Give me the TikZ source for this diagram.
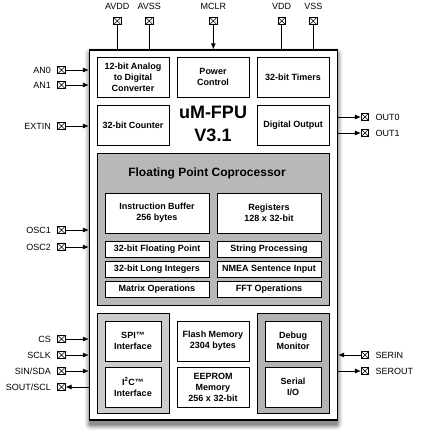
\documentclass[tikz,border=0pt]{standalone}
\usepackage{fontspec}
\setmainfont{Liberation Sans}
\usepackage{tikz}
\usetikzlibrary{arrows.meta}
\usepackage{xcolor}

\definecolor{fpcgrey}{gray}{0.72}
\definecolor{spigrey}{gray}{0.80}
\definecolor{sergrey}{gray}{0.70}

\tikzset{
    fpublock/.style={draw, fill=white, line width=0.8pt, align=center,
        font=\bfseries\fontsize{9}{11}\selectfont, inner sep=1pt},
    fpupanel/.style={draw, line width=0.8pt},
    pinbox/.style={draw, fill=white, line width=0.6pt, minimum size=7.5pt, inner sep=0pt,
        path picture={\draw[line width=0.5pt]
            (path picture bounding box.south west) -- (path picture bounding box.north east)
            (path picture bounding box.north west) -- (path picture bounding box.south east);}},
    pinlabel/.style={font=\fontsize{9}{11}\selectfont},
    sig/.style={line width=0.8pt, -{Latex[length=6pt, width=5pt]}},
    wire/.style={line width=0.8pt}
}

\begin{document}
\begin{tikzpicture}[x=1pt, y=-1pt]
        \useasboundingbox (0, 0) rectangle (421, 436);
        % Chip shadow and outline
        \foreach \s/\o in {6/0.05, 5/0.06, 4/0.08, 3/0.1, 2/0.12, 1/0.14}
            \fill [black, opacity=\o, rounded corners=\s pt]
                (90.5-\s, 54-\s) rectangle (336.5+\s, 424+\s);
        \node [draw, fill=white, line width=1.2pt, minimum width=248pt, minimum height=370pt]
            (chip) at (213.5, 235) {};
        % Top row
        \node [fpublock, minimum width=72pt, minimum height=40pt] (adc) at (133, 77)
            {12-bit Analog\\to Digital\\Converter};
        \node [fpublock, minimum width=72pt, minimum height=40pt] (power) at (213, 77)
            {Power\\Control};
        \node [fpublock, minimum width=72pt, minimum height=40pt] (timers) at (293, 77)
            {32-bit Timers};
        \node [fpublock, minimum width=72pt, minimum height=40pt] (counter) at (133, 125)
            {32-bit Counter};
        \node [fpublock, minimum width=72pt, minimum height=40pt] (dout) at (293, 125)
            {Digital Output};
        \node [align=center, font=\bfseries\fontsize{18}{23}\selectfont] (title) at (213, 124)
            {uM-FPU\\V3.1};
        % Floating point coprocessor
        \node [fpupanel, fill=fpcgrey, minimum width=232pt, minimum height=152pt] (fpc) at (213, 229) {};
        \node [font=\bfseries\fontsize{12}{14}\selectfont] (fpctitle) at (207, 173)
            {Floating Point Coprocessor};
        \node [fpublock, minimum width=104pt, minimum height=40pt] (ibuf) at (157, 213)
            {Instruction Buffer\\256 bytes};
        \node [fpublock, minimum width=104pt, minimum height=40pt] (regs) at (269, 213)
            {Registers\\128 x 32-bit};
        \node [fpublock, minimum width=104pt, minimum height=16pt] (float) at (157, 249) {32-bit Floating Point};
        \node [fpublock, minimum width=104pt, minimum height=16pt] (string) at (269, 249) {String Processing};
        \node [fpublock, minimum width=104pt, minimum height=16pt] (long) at (157, 269) {32-bit Long Integers};
        \node [fpublock, minimum width=104pt, minimum height=16pt] (nmea) at (269, 269) {NMEA Sentence Input};
        \node [fpublock, minimum width=104pt, minimum height=16pt] (matrix) at (157, 289) {Matrix Operations};
        \node [fpublock, minimum width=104pt, minimum height=16pt] (fft) at (269, 289) {FFT Operations};
        % Bottom row
        \node [fpupanel, fill=spigrey, minimum width=72pt, minimum height=100pt] (ifpanel) at (133, 363) {};
        \node [fpublock, minimum width=56pt, minimum height=40pt] (spi) at (133, 341) {SPI™\\Interface};
        \node [fpublock, minimum width=56pt, minimum height=40pt] (i2c) at (133, 387)
            {I\textsuperscript{2}C™\\Interface};
        \node [fpublock, minimum width=72pt, minimum height=40pt] (flash) at (213, 341)
            {Flash Memory\\2304 bytes};
        \node [fpublock, minimum width=72pt, minimum height=40pt] (eeprom) at (213, 387)
            {EEPROM\\Memory\\256 x 32-bit};
        \node [fpupanel, fill=sergrey, minimum width=72pt, minimum height=100pt] (serpanel) at (293, 363) {};
        \node [fpublock, minimum width=56pt, minimum height=40pt] (debug) at (293, 341) {Debug\\Monitor};
        \node [fpublock, minimum width=56pt, minimum height=40pt] (serio) at (293, 387) {Serial\\I/O};
        % Top pins
        \node [pinbox, label={[pinlabel, label distance=3.5pt]above:AVDD}] (avdd) at (117.3, 21) {};
        \node [pinbox, label={[pinlabel, label distance=3.5pt]above:AVSS}] (avss) at (149.3, 21) {};
        \node [pinbox, label={[pinlabel, label distance=3.5pt]above:MCLR}] (mclr) at (213.3, 21) {};
        \node [pinbox, label={[pinlabel, label distance=3.5pt]above:VDD}] (vdd) at (281.7, 21) {};
        \node [pinbox, label={[pinlabel, label distance=3.5pt]above:VSS}] (vss) at (313.3, 21) {};
        \draw [wire] (avdd) -- (avdd |- chip.north);
        \draw [wire] (avss) -- (avss |- chip.north);
        \draw [sig] (mclr) -- (mclr |- chip.north);
        \draw [wire] (vdd) -- (vdd |- chip.north);
        \draw [wire] (vss) -- (vss |- chip.north);
        % Left pins
        \node [pinbox, label={[pinlabel, label distance=3pt]left:AN0}] (an0) at (61.5, 70) {};
        \node [pinbox, label={[pinlabel, label distance=3pt]left:AN1}] (an1) at (61.5, 85) {};
        \node [pinbox, label={[pinlabel, label distance=3pt]left:EXTIN}] (extin) at (61.5, 126) {};
        \node [pinbox, label={[pinlabel, label distance=3pt]left:OSC1}] (osc1) at (61.5, 230) {};
        \node [pinbox, label={[pinlabel, label distance=3pt]left:OSC2}] (osc2) at (61.5, 247) {};
        \node [pinbox, label={[pinlabel, label distance=3pt]left:CS}] (cs) at (61.5, 339) {};
        \node [pinbox, label={[pinlabel, label distance=3pt]left:SCLK}] (sclk) at (61.5, 355) {};
        \node [pinbox, label={[pinlabel, label distance=3pt]left:SIN/SDA}] (sin) at (61.5, 371) {};
        \node [pinbox, label={[pinlabel, label distance=3pt]left:SOUT/SCL}] (sout) at (61.5, 387) {};
        \draw [sig] (an0) -- (an0 -| chip.west);
        \draw [sig] (an1) -- (an1 -| chip.west);
        \draw [sig] (extin) -- (extin -| chip.west);
        \draw [sig] (osc1) -- (osc1 -| chip.west);
        \draw [sig] (osc2) -- (osc2 -| chip.west);
        \draw [sig] (cs) -- (cs -| chip.west);
        \draw [sig] (sclk) -- (sclk -| chip.west);
        \draw [sig] (sin) -- (sin -| chip.west);
        \draw [sig] (sout -| chip.west) -- (sout);
        % Right pins
        \node [pinbox, label={[pinlabel, label distance=3pt]right:OUT0}] (out0) at (365, 117) {};
        \node [pinbox, label={[pinlabel, label distance=3pt]right:OUT1}] (out1) at (365, 133) {};
        \node [pinbox, label={[pinlabel, label distance=3pt]right:SERIN}] (serin) at (365, 355) {};
        \node [pinbox, label={[pinlabel, label distance=3pt]right:SEROUT}] (serout) at (365, 371) {};
        \draw [sig] (out0 -| chip.east) -- (out0);
        \draw [sig] (out1 -| chip.east) -- (out1);
        \draw [sig] (serin) -- (serin -| chip.east);
        \draw [sig] (serout -| chip.east) -- (serout);
    \end{tikzpicture}
\end{document}
